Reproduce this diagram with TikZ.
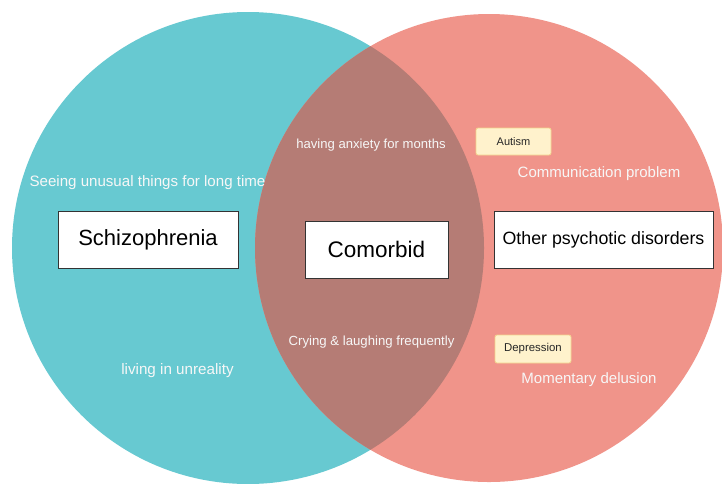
\documentclass[tikz,border=0pt]{standalone}
\usepackage{fontspec}
\setmainfont{Liberation Sans}
\definecolor{tealc}{HTML}{67C9D1}
\definecolor{salmonc}{HTML}{F0948A}
\definecolor{overlapc}{HTML}{B57C75}
\definecolor{notefill}{HTML}{FFF2CC}
\definecolor{notedraw}{HTML}{F2D38C}
\definecolor{boxline}{HTML}{333333}
\definecolor{lbl}{HTML}{F7F7F7}
\tikzset{
  mainbox/.style={draw=boxline, line width=0.9pt, fill=white, inner sep=0pt, text=black},
  notebox/.style={draw=notedraw, line width=0.8pt, fill=notefill, rounded corners=2pt, inner sep=0pt, text=black!85},
  lbltext/.style={text=lbl, inner sep=0pt}
}
\begin{document}
\begin{tikzpicture}[x=1pt,y=-1pt]
\useasboundingbox (0,0) rectangle (722,483);
\fill[white] (0,0) rectangle (722,483);
% circles
\fill[tealc] (248,248) circle[radius=236pt];
\fill[salmonc] (489,248) circle[radius=234pt];
\begin{scope}
  \clip (248,248) circle[radius=236pt];
  \fill[overlapc] (489,248) circle[radius=234pt];
\end{scope}
% main boxes
\node[mainbox, minimum width=180pt, minimum height=57pt, font=\fontsize{22}{26}\selectfont] (schizo) at (148,239.5) {Schizophrenia};
\node[mainbox, minimum width=143pt, minimum height=57pt, font=\fontsize{22.5}{26}\selectfont] (comorbid) at (376.5,249.5) {Comorbid};
\node[mainbox, minimum width=219pt, minimum height=57pt, font=\fontsize{17.8}{21}\selectfont] (other) at (603.5,239.5) {Other psychotic disorders};
% notes
\node[notebox, minimum width=75pt, minimum height=27pt, font=\fontsize{11}{13}\selectfont] (autism) at (513.5,141.5) {Autism};
\node[notebox, minimum width=76pt, minimum height=28pt, font=\fontsize{11.4}{13}\selectfont] (depression) at (533,349) {Depression};
% labels
\node[lbltext, font=\fontsize{15.1}{18}\selectfont] (seeing) at (147.5,182.5) {Seeing unusual things for long time};
\node[lbltext, font=\fontsize{13.1}{16}\selectfont] (anxiety) at (371,145) {having anxiety for months};
\node[lbltext, font=\fontsize{15}{18}\selectfont] (comm) at (599,173.5) {Communication problem};
\node[lbltext, font=\fontsize{13.2}{16}\selectfont] (crying) at (371.5,342.5) {Crying \& laughing frequently};
\node[lbltext, font=\fontsize{15.2}{18}\selectfont] (living) at (177.5,371) {living in unreality};
\node[lbltext, font=\fontsize{15}{18}\selectfont] (momentary) at (589,379.5) {Momentary delusion};
\end{tikzpicture}
\end{document}
